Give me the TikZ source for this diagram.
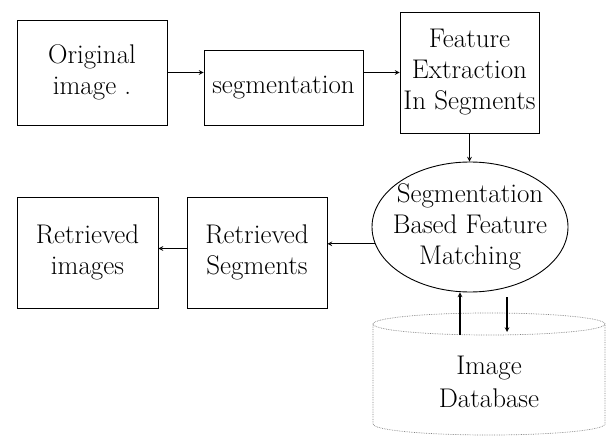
\documentclass[tikz,border=0pt]{standalone}
\usepackage{tikz}
\usetikzlibrary{shapes.geometric}

\begin{document}
\begin{tikzpicture}[x=1pt,y=1pt,
  box/.style={draw,line width=.9pt,align=center,inner sep=0pt,font=\fontsize{27}{31}\selectfont},
  conn/.style={->,>=stealth,line width=1.1pt},
  dbline/.style={densely dotted,gray,line width=.7pt}]
 \useasboundingbox (0,0) rectangle (607,437);
 % top row
 \node[box,minimum width=150pt,minimum height=105pt] (orig) at (92,364.5) {Original\\image .};
 \node[box,minimum width=159pt,minimum height=75pt] (seg) at (283.5,349.5) {segmentation};
 \node[box,minimum width=139pt,minimum height=121pt] (feat) at (469.5,364.5) {Feature\\Extraction\\In Segments};
 % matching and results
 \node[box,ellipse,inner xsep=-20pt,minimum width=196pt,minimum height=130pt] (match) at (470,210)
   {Segmentation\\Based Feature\\Matching};
 \node[box,minimum width=140pt,minimum height=111pt] (rseg) at (257,184.5) {Retrieved\\Segments};
 \node[box,minimum width=141pt,minimum height=111pt] (rimg) at (87.5,184.5) {Retrieved\\images};
 % database
 \coordinate (dbc) at (489,113);
 \draw[dbline] (dbc) ellipse (116 and 11);
 \draw[dbline] ([xshift=-116pt]dbc) -- ++(0,-100) arc (180:360:116 and 11) -- ++(0,100);
 \node[align=center,font=\fontsize{27}{33}\selectfont] (db) at (489,55) {Image\\Database};
 \coordinate (up) at (460,102);
 \coordinate (dn) at (507,105);
 % connectors
 \draw[conn] (orig.east) -- (orig.east -| seg.west);
 \draw[conn] (seg.east |- feat.west) -- (feat.west);
 \draw[conn] (feat.south) -- (feat.south |- match.north);
 \draw[conn] (match.190) -- (match.190 -| rseg.east);
 \draw[conn] ([yshift=4pt]rseg.west) -- ([yshift=4pt]rimg.east);
 \draw[conn] (up) -- (up |- match.south);
 \draw[conn] ([yshift=-5pt]dn |- match.south) -- (dn);
\end{tikzpicture}
\end{document}
